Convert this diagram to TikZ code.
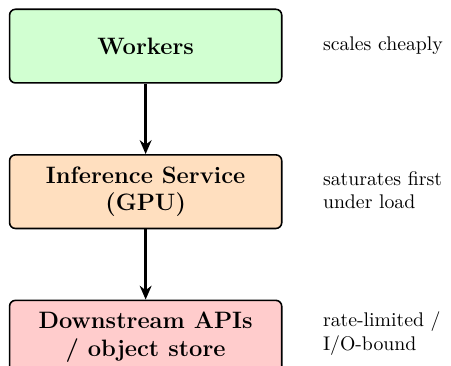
\documentclass[tikz,border=0pt]{standalone}
\usepackage{tikz}
\usetikzlibrary{positioning, arrows.meta}
\usepackage{xcolor}

\begin{document}
\begin{tikzpicture}[
	tier/.style={draw, thick, rounded corners=3pt, minimum width=4.84cm, minimum height=1.31cm, align=center, font=\large\bfseries},
	note/.style={anchor=west, align=left},
	link/.style={very thick, -{Stealth[length=7pt, width=6pt]}},
	node distance=1.25cm
	]
\useasboundingbox (0,0) rectangle (8.02,-6.5);
\node[tier, fill=green!18] (workers) at (2.59,-0.82) {Workers};
\node[tier, fill=orange!25, below=of workers] (infer) {Inference Service\\(GPU)};
\node[tier, fill=red!20, below=of infer] (down) {Downstream APIs\\/ object store};

\node[note] (n1) at (5.62,-0.82) {scales cheaply};
\node[note] (n2) at (5.62,-3.38) {saturates first\\under load};
\node[note] (n3) at (5.62,-5.93) {rate-limited /\\I/O-bound};

\draw[link] (workers) -- (infer);
\draw[link] (infer) -- (down);
\end{tikzpicture}
\end{document}
